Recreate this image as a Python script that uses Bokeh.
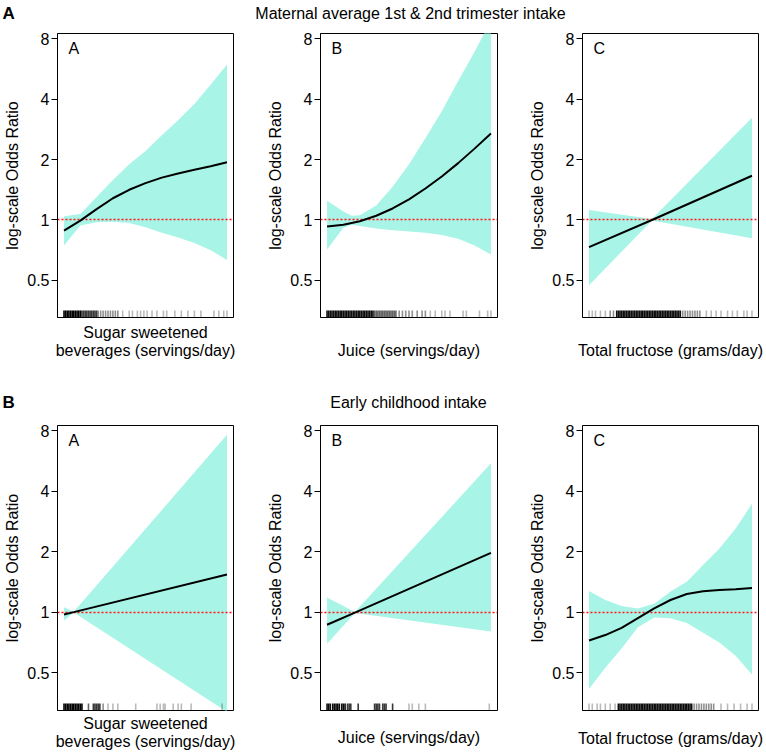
from bokeh.plotting import figure
from bokeh.layouts import column, row
from bokeh.models import Range1d, FixedTicker, Label
from bokeh.embed import file_html
from bokeh.resources import INLINE

FONT = "Liberation Sans"
BAND = "#a8f5e8"
REF = "#ff1010"
XMIN, XMAX = -0.04, 1.04
YMAX = 8.48
YMINS = [0.327, 0.324]   # lower limit of the log y axis, per row

# ---------------- data (relative intake scale 0..1, odds ratios) ----------------
# Maternal average 1st & 2nd trimester intake
m_ssb_x = [0.0, 0.1, 0.2, 0.3, 0.4, 0.5, 0.6, 0.7, 0.8, 0.9, 1.0]
m_ssb_or = [0.885, 0.993, 1.133, 1.283, 1.414, 1.526, 1.625, 1.705, 1.778, 1.853, 1.94]
m_ssb_hi = [1.043, 1.072, 1.301, 1.580, 1.892, 2.204, 2.639, 3.138, 3.784, 4.724, 5.94]
m_ssb_lo = [0.747, 0.939, 0.973, 0.979, 0.966, 0.920, 0.865, 0.818, 0.769, 0.707, 0.633]
m_ssb_rug = [0.00, 0.01, 0.02, 0.03, 0.04, 0.05, 0.06, 0.07, 0.08, 0.09, 0.10,
             0.11, 0.12, 0.13, 0.14, 0.15, 0.16, 0.17, 0.18, 0.19, 0.20,
             0.21, 0.225, 0.24, 0.255, 0.27, 0.285, 0.30, 0.315, 0.33,
             0.36, 0.40, 0.42, 0.45, 0.47, 0.49, 0.51, 0.54, 0.57, 0.61, 0.63,
             0.68, 0.72, 0.76, 0.80, 0.84, 0.92, 0.95, 0.98, 1.00]
m_ssb_rug_n = [6, 6, 6, 6, 6, 6, 6, 6, 6, 6, 6,
               4, 4, 4, 4, 4, 4, 4, 4, 4, 4,
               2, 2, 2, 2, 2, 2, 2, 2, 2,
               1, 1, 1, 1, 1, 1, 1, 1, 1, 1, 1,
               1, 1, 1, 1, 1, 1, 1, 1, 1]

m_juice_x = [0.0, 0.1, 0.15, 0.2, 0.3, 0.4, 0.5, 0.6, 0.7, 0.8, 0.9, 1.0]
m_juice_or = [0.927, 0.946, 0.966, 0.986, 1.05, 1.141, 1.266, 1.434, 1.647, 1.919, 2.266, 2.694]
m_juice_hi = [1.248, 1.102, 1.05, 1.057, 1.181, 1.464, 1.892, 2.549, 3.482, 4.925, 6.87, 9.85]
m_juice_lo = [0.712, 0.914, 0.946, 0.933, 0.908, 0.889, 0.877, 0.865, 0.841, 0.807, 0.747, 0.673]
m_juice_rug = [0.00, 0.01, 0.02, 0.03, 0.04, 0.05, 0.06, 0.07, 0.08, 0.09, 0.10,
               0.11, 0.12, 0.13, 0.14, 0.15, 0.16, 0.17, 0.18, 0.19, 0.20,
               0.21, 0.22, 0.23, 0.24, 0.25, 0.26, 0.27, 0.28,
               0.29, 0.30, 0.31, 0.32, 0.33, 0.34, 0.35, 0.36, 0.37, 0.38, 0.39, 0.40, 0.41, 0.42,
               0.44, 0.46, 0.48, 0.50, 0.52, 0.55, 0.58, 0.60,
               0.63, 0.66, 0.70, 0.72, 0.75, 0.83, 0.85, 0.93, 0.98, 1.00]
m_juice_rug_n = [5, 5, 5, 5, 5, 5, 5, 5, 5, 5, 5,
                 5, 5, 5, 5, 5, 5, 5, 5, 5, 5,
                 5, 5, 5, 5, 5, 5, 5, 5,
                 3, 3, 3, 3, 3, 3, 3, 3, 3, 3, 3, 3, 3, 3,
                 2, 2, 2, 2, 2, 2, 2, 2,
                 1, 1, 1, 1, 1, 1, 1, 1, 1, 1]

m_fru_x = [0.0, 0.386, 1.0]
m_fru_or = [0.732, 1.0, 1.66]
m_fru_hi = [1.121, 1.01, 3.23]
m_fru_lo = [0.473, 0.995, 0.81]
m_fru_rug = [0.00, 0.02, 0.04, 0.07, 0.10, 0.13, 0.15,
             0.17, 0.18, 0.19, 0.20, 0.21, 0.22, 0.23, 0.24, 0.25, 0.26,
             0.27, 0.28, 0.29, 0.30, 0.31, 0.32, 0.33, 0.34, 0.35, 0.36,
             0.37, 0.38, 0.39, 0.40, 0.41, 0.42, 0.43, 0.44, 0.45, 0.46,
             0.47, 0.48, 0.49, 0.50, 0.51, 0.52, 0.53, 0.54, 0.55, 0.56,
             0.575, 0.59, 0.605, 0.62, 0.635, 0.65, 0.665, 0.68,
             0.72, 0.75, 0.78, 0.81, 0.85, 0.88, 0.91, 0.95, 0.97, 1.00]
m_fru_rug_n = [1, 1, 1, 1, 1, 2, 2,
               5, 5, 5, 5, 5, 5, 5, 5, 5, 5,
               5, 5, 5, 5, 5, 5, 5, 5, 5, 5,
               5, 5, 5, 5, 5, 5, 5, 5, 5, 5,
               5, 5, 5, 5, 5, 5, 5, 5, 5, 5,
               2, 2, 2, 2, 2, 2, 2, 2,
               1, 1, 1, 1, 1, 1, 1, 1, 1, 1]

# Early childhood intake
c_ssb_x = [0.0, 0.06, 1.0]
c_ssb_or = [0.973, 1.0, 1.537]
c_ssb_hi = [1.057, 1.005, 7.62]
c_ssb_lo = [0.908, 0.995, 0.319]
c_ssb_rug = [0.00, 0.01, 0.02, 0.03, 0.04, 0.05, 0.06, 0.07, 0.08, 0.09, 0.10, 0.11,
             0.15, 0.18, 0.19, 0.20, 0.21, 0.22, 0.24, 0.27, 0.30, 0.33, 0.44,
             0.57, 0.59, 0.61, 0.62, 0.67, 0.70, 0.72, 0.78, 0.97]
c_ssb_rug_n = [6, 6, 6, 6, 6, 6, 6, 6, 6, 6, 6, 6,
               3, 4, 4, 4, 4, 4, 2, 1, 1, 1, 1,
               1, 1, 1, 1, 1, 1, 1, 1, 1]

c_juice_x = [0.0, 0.17, 1.0]
c_juice_or = [0.865, 0.995, 1.973]
c_juice_hi = [1.181, 1.0, 5.5]
c_juice_lo = [0.697, 0.99, 0.80]
c_juice_rug = [0.00, 0.01, 0.02, 0.035, 0.045, 0.055, 0.065, 0.075, 0.09, 0.10, 0.11,
               0.125, 0.135, 0.145, 0.19, 0.29, 0.30, 0.31, 0.32, 0.34, 0.35, 0.36,
               0.40, 0.50, 0.52, 0.56, 0.60, 0.99]
c_juice_rug_n = [5, 5, 5, 5, 5, 5, 5, 5, 5, 5, 5,
                 4, 4, 4, 4, 4, 4, 4, 4, 4, 4, 4,
                 4, 1, 1, 1, 1, 1]

c_fru_x = [0.0, 0.1, 0.2, 0.3, 0.4, 0.5, 0.6, 0.7, 0.8, 0.9, 1.0]
c_fru_or = [0.722, 0.769, 0.835, 0.933, 1.043, 1.149, 1.231, 1.27, 1.288, 1.301, 1.32]
c_fru_hi = [1.274, 1.149, 1.072, 1.043, 1.102, 1.266, 1.414, 1.717, 2.071, 2.603, 3.458]
c_fru_lo = [0.415, 0.528, 0.66, 0.841, 0.939, 0.933, 0.883, 0.79, 0.707, 0.607, 0.49]
c_fru_rug = [0.00, 0.02, 0.05, 0.07, 0.10, 0.13, 0.16,
             0.18, 0.19, 0.20, 0.21, 0.22, 0.23, 0.24, 0.25, 0.26, 0.27,
             0.28, 0.29, 0.30, 0.31, 0.32, 0.33, 0.34, 0.35, 0.36, 0.37,
             0.38, 0.39, 0.40, 0.41, 0.42, 0.43, 0.44, 0.45, 0.46, 0.47,
             0.48, 0.49, 0.50, 0.51, 0.52, 0.53, 0.54, 0.55, 0.56, 0.57,
             0.58, 0.59, 0.60, 0.61, 0.62, 0.63,
             0.645, 0.66, 0.675, 0.69, 0.705, 0.72, 0.735, 0.75, 0.765,
             0.81, 0.85, 0.89, 0.93, 0.97, 1.00]
c_fru_rug_n = [1, 1, 1, 1, 1, 1, 1,
               5, 5, 5, 5, 5, 5, 5, 5, 5, 5,
               5, 5, 5, 5, 5, 5, 5, 5, 5, 5,
               5, 5, 5, 5, 5, 5, 5, 5, 5, 5,
               5, 5, 5, 5, 5, 5, 5, 5, 5, 5,
               5, 5, 5, 5, 5, 5,
               2, 2, 2, 2, 2, 2, 2, 2, 2,
               1, 1, 1, 1, 1, 1]

y_ticks = [0.5, 1, 2, 4, 8]
y_tick_labels = ["0.5", "1", "2", "4", "8"]
y_title = "log-scale Odds Ratio"
row_titles = ["Maternal average 1st & 2nd trimester intake", "Early childhood intake"]
row_tags = ["A", "B"]
panel_tags = ["A", "B", "C"]
x_titles = [["Sugar sweetened", "beverages (servings/day)"],
            ["Juice (servings/day)"],
            ["Total fructose (grams/day)"]]

TOTAL_W = 765


def label(p, text, x, y, align="center", size="16px", bold=False):
    p.add_layout(Label(x=x, y=y, text=text, text_font=FONT, text_font_size=size,
                       text_font_style="bold" if bold else "normal",
                       text_color="black", text_align=align,
                       text_baseline="middle"))


def strip(h):
    s = figure(width=TOTAL_W, height=h, x_range=Range1d(0, TOTAL_W),
               y_range=Range1d(h, 0), x_axis_location=None,
               y_axis_location=None, toolbar_location=None,
               output_backend="svg", title=None, min_border=0)
    s.outline_line_color = None
    s.background_fill_color = "white"
    s.border_fill_color = "white"
    s.xgrid.visible = False
    s.ygrid.visible = False
    return s


def panel(xs, orv, hi, lo, rug, rug_n, ymin, W, L, R, H, T, B):
    p = figure(width=W, height=H, x_range=Range1d(XMIN, XMAX),
               y_range=Range1d(ymin, YMAX), y_axis_type="log",
               x_axis_location=None, toolbar_location=None,
               output_backend="svg", title=None,
               min_border_left=L, min_border_right=R,
               min_border_top=T, min_border_bottom=B)
    p.background_fill_color = "white"
    p.border_fill_color = "white"
    p.outline_line_color = "black"
    p.outline_line_width = 1
    p.xgrid.visible = False
    p.ygrid.visible = False
    ax = p.yaxis[0]
    ax.ticker = FixedTicker(ticks=y_ticks, minor_ticks=[])
    ax.major_label_overrides = {t: s for t, s in zip(y_ticks, y_tick_labels)}
    ax.major_tick_out = 6
    ax.major_tick_in = 0
    ax.minor_tick_line_color = None
    ax.major_label_standoff = 2
    ax.major_label_text_font = FONT
    ax.major_label_text_font_size = "16px"
    ax.major_label_text_color = "black"
    ax.axis_line_color = "black"
    ax.major_tick_line_color = "black"
    ax.axis_label = y_title
    ax.axis_label_standoff = 3
    ax.axis_label_text_font = FONT
    ax.axis_label_text_font_size = "16px"
    ax.axis_label_text_font_style = "normal"
    ax.axis_label_text_color = "black"

    p.varea(x=xs, y1=lo, y2=hi, fill_color=BAND, fill_alpha=1.0)
    p.hspan(y=[1], line_color=REF, line_width=1.3, line_dash="2 2")
    p.line(x=xs, y=orv, line_color="black", line_width=2)
    alphas = [min(1.0, 0.1 + 0.17 * n) for n in rug_n]
    p.rect(x=rug, y=[ymin] * len(rug), width=1.6, height=14,
           width_units="screen", height_units="screen",
           fill_color="black", fill_alpha=alphas, line_color=None)
    return p


cols = [(262, 57, 29), (263, 58, 28), (240, 57, 7)]
col_centers = [145, 408.5, 670]
rows_geo = [(295, 9, 2), (297, 10, 2)]

data = [
    [(m_ssb_x, m_ssb_or, m_ssb_hi, m_ssb_lo, m_ssb_rug, m_ssb_rug_n),
     (m_juice_x, m_juice_or, m_juice_hi, m_juice_lo, m_juice_rug, m_juice_rug_n),
     (m_fru_x, m_fru_or, m_fru_hi, m_fru_lo, m_fru_rug, m_fru_rug_n)],
    [(c_ssb_x, c_ssb_or, c_ssb_hi, c_ssb_lo, c_ssb_rug, c_ssb_rug_n),
     (c_juice_x, c_juice_or, c_juice_hi, c_juice_lo, c_juice_rug, c_juice_rug_n),
     (c_fru_x, c_fru_or, c_fru_hi, c_fru_lo, c_fru_rug, c_fru_rug_n)],
]

plot_rows = []
for ri, (H, T, B) in enumerate(rows_geo):
    figs = []
    for ci, (W, L, R) in enumerate(cols):
        p = panel(*data[ri][ci], YMINS[ri], W, L, R, H, T, B)
        p.add_layout(Label(x=XMIN, y=YMAX, x_offset=11, y_offset=-15,
                           text=panel_tags[ci], text_font=FONT,
                           text_font_size="16px", text_color="black",
                           text_align="left", text_baseline="middle"))
        figs.append(p)
    plot_rows.append(row(*figs))

# header strip above the top row
top = strip(24)
label(top, row_tags[0], 2, 13, align="left", size="17px", bold=True)
label(top, row_titles[0], 410, 13)

# strip between the rows: x titles of top row + header of bottom row
mid = strip(96)
x_title_y_top = [[13, 31], [31], [31]]
for ci in range(3):
    for t, yy in zip(x_titles[ci], x_title_y_top[ci]):
        label(mid, t, col_centers[ci], yy)
label(mid, row_tags[1], 2, 83, align="left", size="17px", bold=True)
label(mid, row_titles[1], 408, 83)

# strip below the bottom row
bot = strip(39)
x_title_y_bot = [[11, 29], [25], [26]]
for ci in range(3):
    for t, yy in zip(x_titles[ci], x_title_y_bot[ci]):
        label(bot, t, col_centers[ci], yy)

layout = column(top, plot_rows[0], mid, plot_rows[1], bot)
open("out.html", "w").write(file_html(layout, INLINE))
